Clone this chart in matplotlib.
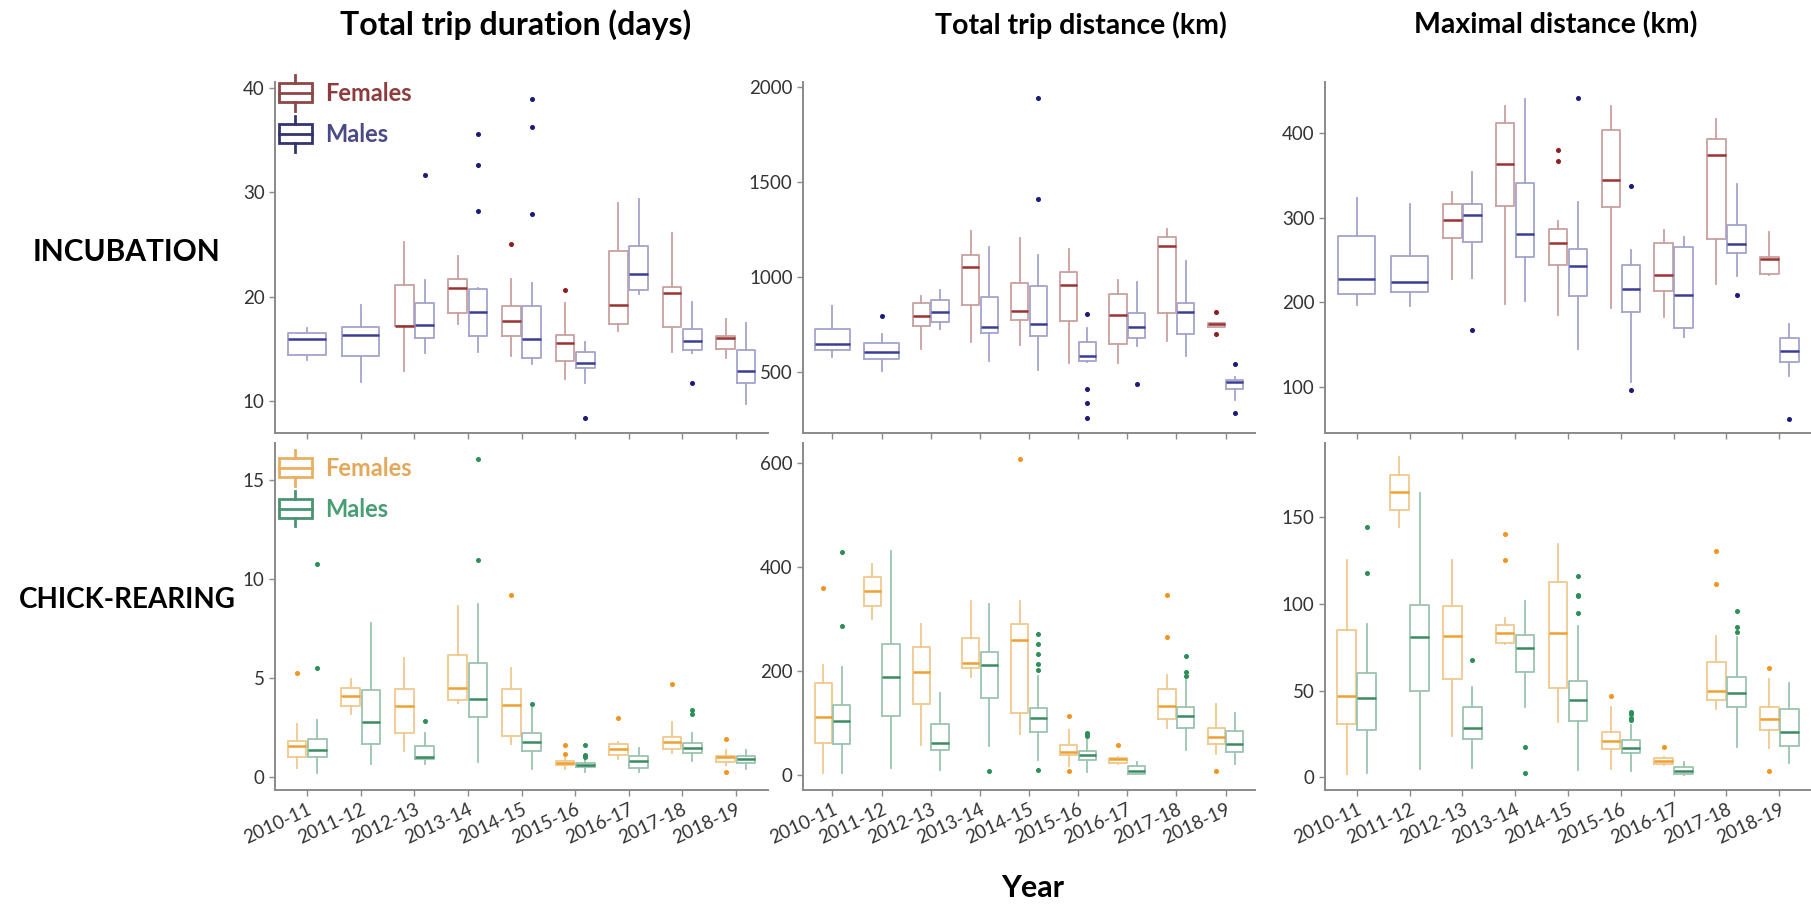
import matplotlib
matplotlib.use("Agg")
import matplotlib.pyplot as plt
from matplotlib.legend_handler import HandlerBase
from matplotlib.patches import Rectangle
from matplotlib.lines import Line2D

plt.rcParams['font.family'] = ['Lato', 'DejaVu Sans']

years = ["2010-11", "2011-12", "2012-13", "2013-14", "2014-15",
         "2015-16", "2016-17", "2017-18", "2018-19"]

# each box: (whisker low, Q1, median, Q3, whisker high); None = no data
# --- incubation, total trip duration (days)
inc_dur_f = [None, None,
             (12.9, 17.2, 17.2, 21.1, 25.2), (17.4, 18.4, 20.8, 21.7, 23.9),
             (14.3, 16.2, 17.7, 19.1, 21.7), (12.1, 13.8, 15.5, 16.3, 19.4),
             (16.7, 17.4, 19.2, 24.4, 29.0), (14.7, 17.1, 20.3, 20.9, 26.1),
             (14.1, 15.0, 16.0, 16.2, 17.8)]
inc_dur_f_out = [[], [], [], [], [25.0], [20.6], [], [], []]
inc_dur_m = [(13.9, 14.4, 15.9, 16.5, 17.0), (11.8, 14.3, 16.3, 17.1, 19.2),
             (14.6, 16.0, 17.3, 19.4, 21.6), (14.7, 16.2, 18.5, 20.7, 20.8),
             (13.5, 14.1, 15.9, 19.1, 21.3), (11.7, 13.1, 13.6, 14.7, 15.6),
             (20.2, 20.6, 22.2, 24.9, 29.4), (14.6, 14.9, 15.7, 16.9, 19.5),
             (9.7, 11.7, 12.9, 14.9, 17.5)]
inc_dur_m_out = [[], [], [31.7], [35.6, 32.6, 28.2], [39.0, 36.3, 27.9],
                 [8.3], [], [11.7], []]

# --- incubation, total trip distance (km)
inc_dist_f = [None, None,
              (621, 740, 793, 860, 898), (654, 853, 1049, 1112, 1240),
              (640, 772, 818, 968, 1205), (544, 765, 956, 1026, 1144),
              (547, 647, 798, 911, 983), (663, 811, 1163, 1211, 1249),
              (737, 737, 751, 758, 758)]
inc_dist_f_out = [[], [], [], [], [], [], [], [], [812, 697]]
inc_dist_m = [(575, 612, 646, 723, 847), (505, 568, 602, 649, 697),
              (726, 760, 816, 877, 930), (556, 702, 737, 895, 1158),
              (509, 688, 749, 949, 1116), (550, 558, 583, 656, 730),
              (637, 679, 735, 811, 974), (584, 697, 814, 863, 1083),
              (351, 407, 444, 456, 474)]
inc_dist_m_out = [[], [795], [], [], [1939, 1411], [804, 407, 335, 254],
                  [433], [], [540, 284]]

# --- incubation, maximal distance (km)
inc_max_f = [None, None,
             (227, 276, 297, 316, 331), (198, 314, 364, 413, 433),
             (185, 244, 270, 287, 296), (193, 313, 345, 404, 433),
             (183, 213, 232, 270, 286), (222, 275, 375, 393, 417),
             (232, 233, 251, 254, 283)]
inc_max_f_out = [[], [], [], [], [380, 367], [], [], [], []]
inc_max_m = [(197, 210, 228, 279, 324), (196, 212, 224, 255, 316),
             (229, 271, 303, 317, 354), (202, 254, 281, 341, 441),
             (144, 207, 243, 263, 319), (105, 188, 216, 244, 262),
             (159, 170, 208, 265, 277), (231, 258, 269, 292, 340),
             (113, 129, 142, 158, 174)]
inc_max_m_out = [[], [], [167], [], [442], [338, 96], [], [208], [62]]

# --- chick-rearing, total trip duration (days)
chk_dur_f = [(0.42, 0.99, 1.57, 1.82, 2.66), (3.17, 3.59, 4.08, 4.50, 4.92),
             (1.31, 2.22, 3.57, 4.42, 5.98), (3.71, 3.88, 4.47, 6.15, 8.63),
             (1.63, 2.07, 3.62, 4.45, 5.51), (0.37, 0.59, 0.67, 0.79, 0.93),
             (0.88, 1.08, 1.42, 1.67, 1.74), (1.21, 1.40, 1.77, 2.00, 2.78),
             (0.59, 0.74, 1.01, 1.04, 1.35)]
chk_dur_f_out = [[5.22], [], [], [], [9.19], [1.6, 1.13], [2.98], [4.69],
                 [1.9, 0.22]]
chk_dur_m = [(0.17, 0.99, 1.35, 1.90, 2.87), (0.64, 1.63, 2.78, 4.38, 7.75),
             (0.62, 0.91, 0.98, 1.57, 2.22), (0.76, 3.02, 3.91, 5.73, 8.73),
             (0.37, 1.30, 1.75, 2.22, 3.46), (0.25, 0.51, 0.59, 0.67, 0.91),
             (0.22, 0.46, 0.81, 1.04, 1.43), (0.81, 1.18, 1.47, 1.72, 2.22),
             (0.37, 0.72, 0.89, 1.04, 1.35)]
chk_dur_m_out = [[10.75, 5.51], [], [2.83], [16.06, 10.96], [3.67],
                 [1.58, 1.1, 0.98], [], [3.37, 3.15], []]

# --- chick-rearing, total trip distance (km)
chk_dist_f = [(4.5, 62.4, 110.6, 176.2, 211.6), (300, 326, 354, 381, 406),
              (58.5, 135.7, 198.7, 246.3, 290.7), (188, 205, 216, 264, 334),
              (78.5, 119.6, 259.2, 290.7, 335), (16.7, 37.9, 45, 57.2, 86.2),
              (22, 23.8, 30.2, 33.4, 35), (91.3, 106.8, 132.5, 164.6, 192.3),
              (39.9, 60.5, 73.3, 91.3, 136.3)]
chk_dist_f_out = [[359], [], [], [], [609], [113, 7], [57], [346, 266], [8]]
chk_dist_m = [(4.5, 59.2, 104.2, 133.8, 207.7), (14, 113, 188, 253, 432),
              (10.3, 48.9, 61.7, 99, 158.2), (56.6, 148.6, 211.6, 236.7, 329.3),
              (28.3, 83, 108.7, 128, 190.4), (5.8, 28.3, 39.2, 46.3, 66.9),
              (1.3, 2.6, 7.1, 16.7, 25.1), (47.6, 91.3, 113.8, 131.2, 182.6),
              (20.6, 44.4, 59.2, 84.9, 118.3)]
chk_dist_m_out = [[430, 286], [], [], [8], [271, 253, 232, 214, 202, 10],
                  [81, 78, 75], [], [228, 199, 190], []]

# --- chick-rearing, maximal distance (km)
chk_max_f = [(1.9, 30.8, 47.2, 85.1, 125.5), (144.8, 154.4, 164.8, 174.6, 184.8),
             (23.9, 56.6, 81.8, 98.8, 125.5), (77, 77.8, 83.6, 87.8, 91.8),
             (31.8, 51.6, 83.6, 113, 134.6), (4.6, 16.4, 21, 26.2, 40.8),
             (7.1, 7.7, 9.6, 11.2, 12), (39.5, 44.5, 50.1, 66.4, 81.8),
             (17.1, 27.3, 33.5, 40.8, 57)]
chk_max_f_out = [[], [], [], [140.6, 125.2], [], [47], [17.7], [130.9, 111.5],
                 [63, 3.7]]
chk_max_m = [(2.7, 27.3, 45.6, 60.1, 88.4), (4.6, 50.1, 81.1, 99.5, 164.4),
             (5.2, 22.3, 28.7, 40.6, 52.2), (40.4, 61, 74.9, 82, 102),
             (4.2, 32.5, 44.7, 55.5, 87.4), (3.9, 13.9, 17.1, 21.6, 30),
             (1.3, 1.9, 3.7, 5.8, 9), (17.7, 40.8, 48.5, 58, 81.3),
             (8.5, 18.3, 26.2, 39.3, 54.3)]
chk_max_m_out = [[144.4, 118], [], [68], [17.7, 2.3], [116.1, 105.3, 104.4, 95.1],
                 [38, 36.5, 34.5, 33], [], [96, 87, 84], []]

col_titles = ["Total trip duration (days)", "Total trip distance (km)", "Maximal distance (km)"]
row_titles = ["INCUBATION", "CHICK-REARING"]

# colours: (box/whisker, median, outlier, legend icon, legend text)
inc_f_col = ("#c9a0a0", "#9a3232", "#8c1f1f", "#8e4646", "#8c3c3c")
inc_m_col = ("#a4a4cc", "#3c3c96", "#1c1c78", "#34346e", "#4a4a86")
chk_f_col = ("#f0c98c", "#f0a030", "#f2951e", "#eab060", "#e3a85a")
chk_m_col = ("#9cc4b0", "#3a8a62", "#2e8e5a", "#4a9474", "#4a9e74")


def draw_boxes(ax, sf, of, sm, om, cf, cm):
    for i in range(len(years)):
        both = sf[i] is not None and sm[i] is not None
        for stats, outs, c, off in [(sf, of, cf, -0.19), (sm, om, cm, 0.19)]:
            if stats[i] is None:
                continue
            lo, q1, med, q3, hi = stats[i]
            s = dict(whislo=lo, q1=q1, med=med, q3=q3, whishi=hi, fliers=outs[i])
            pos = i + 1 + (off if both else 0)
            w = 0.35 if both else 0.7
            ax.bxp([s], positions=[pos], widths=[w], showcaps=False,
                   boxprops=dict(color=c[0], lw=1.3),
                   whiskerprops=dict(color=c[0], lw=1.3),
                   medianprops=dict(color=c[1], lw=1.8),
                   flierprops=dict(marker='o', markersize=2.6, markerfacecolor=c[2],
                                   markeredgecolor=c[2]))


class BoxIcon(HandlerBase):
    def create_artists(self, legend, orig, xd, yd, w, h, fs, trans):
        c = orig.get_color()
        x0 = -xd
        yc = -yd + h / 2
        bh = h * 0.45
        xm = x0 + w / 2
        arts = [Rectangle((x0, yc - bh), w, 2 * bh, fill=False, ec=c, lw=2),
                Line2D([x0, x0 + w], [yc, yc], color=c, lw=2),
                Line2D([xm, xm], [yc + bh, yc + h * 0.85], color=c, lw=2),
                Line2D([xm, xm], [yc - bh, yc - h * 0.85], color=c, lw=2)]
        for a in arts:
            a.set_transform(trans)
        return arts


W, H = 1811, 906
fig = plt.figure(figsize=(W / 100, H / 100), dpi=100)

cols_px = [(275, 768), (803, 1255), (1325, 1811)]
rows_px = [(82, 433), (443, 790)]

panels = [
    [(inc_dur_f, inc_dur_f_out, inc_dur_m, inc_dur_m_out, (6.9, 40.6), [10, 20, 30, 40]),
     (inc_dist_f, inc_dist_f_out, inc_dist_m, inc_dist_m_out, (177, 2025), [500, 1000, 1500, 2000]),
     (inc_max_f, inc_max_f_out, inc_max_m, inc_max_m_out, (45, 461), [100, 200, 300, 400])],
    [(chk_dur_f, chk_dur_f_out, chk_dur_m, chk_dur_m_out, (-0.67, 16.87), [0, 5, 10, 15]),
     (chk_dist_f, chk_dist_f_out, chk_dist_m, chk_dist_m_out, (-29, 639), [0, 200, 400, 600]),
     (chk_max_f, chk_max_f_out, chk_max_m, chk_max_m_out, (-7.3, 193), [0, 50, 100, 150])],
]
row_cols = [(inc_f_col, inc_m_col), (chk_f_col, chk_m_col)]

for r, (top, bot) in enumerate(rows_px):
    cf, cm = row_cols[r]
    for c, (left, right) in enumerate(cols_px):
        ax = fig.add_axes([left / W, (H - bot) / H, (right - left) / W, (bot - top) / H])
        sf, of, sm, om, ylim, yt = panels[r][c]
        draw_boxes(ax, sf, of, sm, om, cf, cm)
        ax.set_xlim(0.4, 9.6)
        ax.set_ylim(*ylim)
        ax.set_yticks(yt)
        ax.set_xticks(range(1, 10))
        for side in ['top', 'right']:
            ax.spines[side].set_visible(False)
        for side in ['left', 'bottom']:
            ax.spines[side].set_color('#8a8a8a')
            ax.spines[side].set_linewidth(1.4)
        ax.tick_params(colors='#8a8a8a', length=4, width=1, labelcolor='#333333',
                       labelsize=13.5)
        if r == 1:
            ax.set_xticklabels(years, rotation=25, ha='right', rotation_mode='anchor')
        else:
            ax.set_xticklabels([])
        if c == 0:
            handles = [Line2D([], [], color=cf[3]), Line2D([], [], color=cm[3])]
            anchor_y = 1.0 if r == 0 else 0.96
            ax.legend(handles, ["Females", "Males"], handler_map={Line2D: BoxIcon()},
                      loc='upper left', bbox_to_anchor=(0.008, anchor_y), frameon=False,
                      borderpad=0, borderaxespad=0, handlelength=1.4, handleheight=1.0,
                      handletextpad=0.55, labelspacing=0.75,
                      prop=dict(weight='bold', size=17), labelcolor=[cf[4], cm[4]])

for x, t, fs in zip([516, 1081, 1556], col_titles, [23, 20.5, 20.5]):
    fig.text(x / W, 1 - 25 / H, t, ha='center', va='center', fontsize=fs, fontweight='bold')
for y, t, fs in zip([252, 600], row_titles, [21.5, 20]):
    fig.text(127 / W, 1 - y / H, t, ha='center', va='center', fontsize=fs, fontweight='bold')
fig.text(1033 / W, 1 - 888 / H, "Year", ha='center', va='center', fontsize=22, fontweight='bold')

fig.savefig("out.png", dpi=100)
